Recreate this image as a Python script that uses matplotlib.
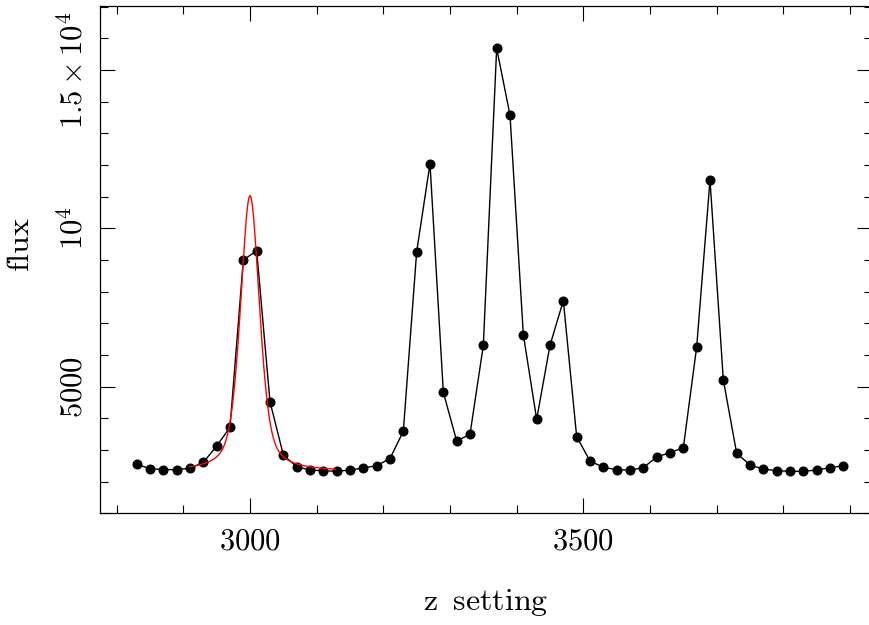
import numpy as np
import matplotlib
matplotlib.use('Agg')
import matplotlib.pyplot as plt
from matplotlib.ticker import MultipleLocator, FixedLocator, FixedFormatter

# scan data
z_setting = [2830, 2850, 2870, 2890, 2910, 2930, 2950, 2970, 2990, 3010,
             3030, 3050, 3070, 3090, 3110, 3130, 3150, 3170, 3190, 3210,
             3230, 3250, 3270, 3290, 3310, 3330, 3350, 3370, 3390, 3410,
             3430, 3450, 3470, 3490, 3510, 3530, 3550, 3570, 3590, 3610,
             3630, 3650, 3670, 3690, 3710, 3730, 3750, 3770, 3790, 3810,
             3830, 3850, 3870, 3890]
flux = [2550, 2410, 2380, 2380, 2420, 2610, 3125, 3716, 9000, 9290,
        4525, 2841, 2472, 2367, 2345, 2326, 2367, 2431, 2503, 2730,
        3590, 9260, 12040, 4821, 3283, 3495, 6305, 15685, 13580, 6641,
        3968, 6305, 7714, 3420, 2652, 2453, 2377, 2367, 2440, 2778,
        2914, 3072, 6252, 11526, 5210, 2895, 2525, 2399, 2345, 2326,
        2326, 2367, 2440, 2503]

# fitted line profile (pseudo-Voigt) over the first peak
fit_center = 3000.0
fit_amp = 8710.0
fit_base = 2320.0
fit_fwhm = 34.0
fit_eta = 0.5
fit_start, fit_end = 2910, 3128

plt.rcParams['mathtext.fontset'] = 'cm'
plt.rcParams['font.family'] = 'serif'
plt.rcParams['font.serif'] = ['DejaVu Serif']

fig = plt.figure(figsize=(8.7, 6.25), dpi=100)
ax = fig.add_axes([100 / 870, (625 - 513.3) / 625, 772 / 870, 507.6 / 625])

ax.plot(z_setting, flux, color='black', lw=1.0, marker='o', ms=6.2,
        mfc='black', mec='black')

zz = np.linspace(fit_start, fit_end, 600)
sig = fit_fwhm / 2.3548
hw = fit_fwhm / 2.0
gauss = np.exp(-(zz - fit_center) ** 2 / (2 * sig ** 2))
lorentz = 1.0 / (1.0 + ((zz - fit_center) / hw) ** 2)
model = fit_base + fit_amp * (fit_eta * lorentz + (1 - fit_eta) * gauss)
ax.plot(zz, model, color='red', lw=1.0)

ax.set_xlim(2775, 2775 + 772 * 1.5)
ax.set_ylim(1000, 17030)

ax.xaxis.set_major_locator(FixedLocator([3000, 3500]))
ax.xaxis.set_major_formatter(FixedFormatter([r'$3000$', r'$3500$']))
ax.xaxis.set_minor_locator(MultipleLocator(100))
ax.yaxis.set_major_locator(FixedLocator([5000, 10000, 15000]))
ax.yaxis.set_major_formatter(FixedFormatter([r'$5000$', r'$10^4$', r'$1.5\times10^4$']))
ax.yaxis.set_minor_locator(MultipleLocator(1000))

ax.tick_params(which='both', direction='in', top=True, right=True, width=0.8,
               labelsize=22, colors='black')
ax.tick_params(which='major', length=11)
ax.tick_params(which='minor', length=5.5)
ax.tick_params(axis='x', pad=9)
ax.tick_params(axis='y', pad=8)
for lbl in ax.get_yticklabels():
    lbl.set_rotation(90)
    lbl.set_va('center')
    lbl.set_ha('right')
for sp in ax.spines.values():
    sp.set_linewidth(0.9)

ax.set_xlabel(r'$\mathrm{z}\;\;\mathrm{setting}$', fontsize=23, labelpad=22)
ax.set_ylabel(r'$\mathrm{flux}$', fontsize=23)
ax.yaxis.set_label_coords(-0.083, 0.53)

fig.savefig('out.png', dpi=100)
